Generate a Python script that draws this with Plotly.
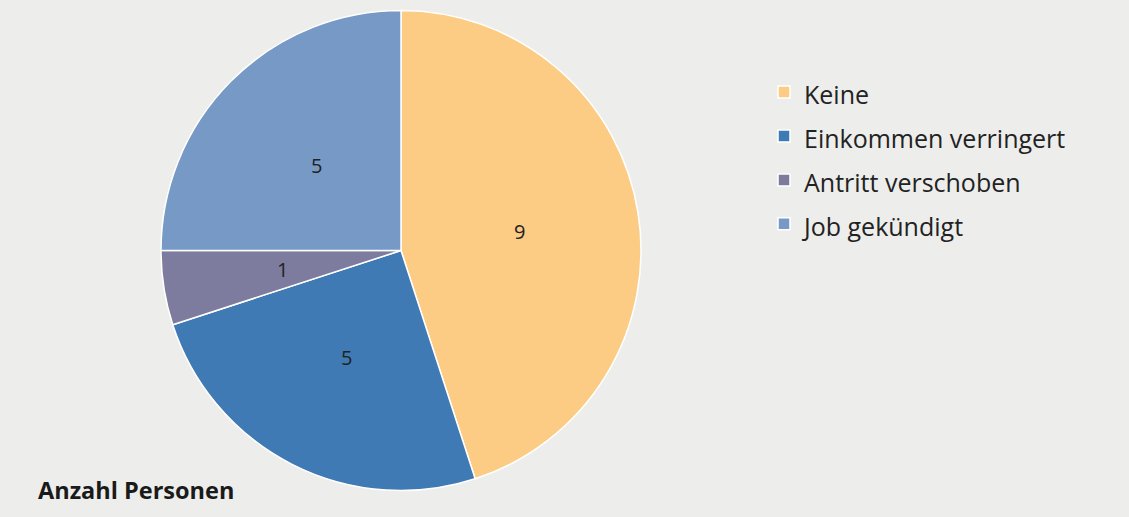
import math
import plotly.graph_objects as go

categories = ["Keine", "Einkommen verringert", "Antritt verschoben", "Job gekündigt"]
values = [9, 5, 1, 5]
colors = ["#FCCB84", "#3F7AB5", "#7D7B9E", "#7699C6"]
footer_label = "Anzahl Personen"

W, H = 1129, 517
# pie geometry (pixels)
px0, px1, py0, py1 = 161, 641, 10, 491
cx, cy = (px0 + px1) / 2, (py0 + py1) / 2
R = min(px1 - px0, py1 - py0) / 2
label_frac = 0.5

legend_labels = [f"<span style='font-size:25px'>{c}</span>" for c in categories]

fig = go.Figure(go.Pie(
    labels=legend_labels,
    values=values,
    sort=False,
    direction="clockwise",
    rotation=0,
    marker=dict(colors=colors, line=dict(color="#FFFFFF", width=1.5)),
    textinfo="none",
    hoverinfo="skip",
    domain=dict(x=[px0 / W, px1 / W], y=[1 - py1 / H, 1 - py0 / H]),
))

# value labels placed on each slice bisector at half radius
annotations = []
total = sum(values)
cum = 0
for v in values:
    mid = (cum + v / 2) / total * 2 * math.pi
    cum += v
    x = cx + label_frac * R * math.sin(mid)
    y = cy - label_frac * R * math.cos(mid)
    annotations.append(dict(
        text=str(v), x=x / W, y=1 - y / H, xref="paper", yref="paper",
        xanchor="center", yanchor="middle", showarrow=False,
        font=dict(family="Open Sans", size=20, color="#222222"),
    ))

annotations.append(dict(
    text=f"<b>{footer_label}</b>", x=36 / W, y=1 - 490 / H,
    xref="paper", yref="paper", xanchor="left", yanchor="middle",
    showarrow=False, font=dict(family="Open Sans", size=23.5, color="#1a1a1a"),
))

fig.update_layout(
    width=W, height=H,
    margin=dict(l=0, r=0, t=0, b=0),
    paper_bgcolor="#EDEDEB",
    plot_bgcolor="#EDEDEB",
    font=dict(family="Open Sans", color="#222222"),
    legend=dict(
        x=764 / W, y=1 - 65 / H, xanchor="left", yanchor="top",
        font=dict(family="Open Sans", size=31.5, color="#222222"),
        bgcolor="rgba(0,0,0,0)",
    ),
    annotations=annotations,
)

fig.write_html("out.html")
